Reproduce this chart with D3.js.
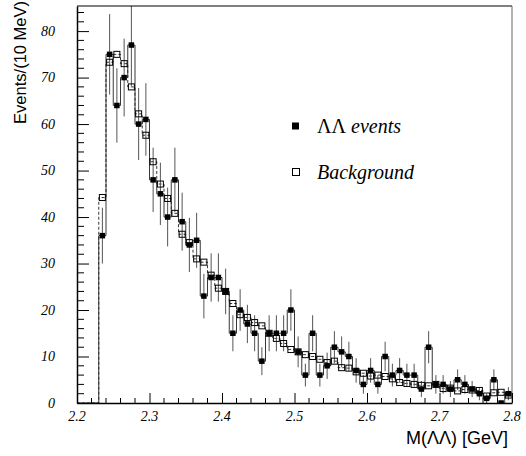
<!DOCTYPE html>
<html>
<head>
<meta charset="utf-8">
<script src="https://cdn.jsdelivr.net/npm/d3@7"></script>
<style>
  html, body { margin: 0; padding: 0; background: #fff; }
  svg { display: block; }
</style>
</head>
<body>
<svg id="chart" width="526" height="456"></svg>
<script>
// ---- data ----
const binLow = [2.23,2.24,2.25,2.26,2.27,2.28,2.29,2.30,2.31,2.32,2.33,2.34,2.35,2.36,2.37,2.38,2.39,
  2.40,2.41,2.42,2.43,2.44,2.45,2.46,2.47,2.48,2.49,2.50,2.51,2.52,2.53,2.54,2.55,2.56,2.57,2.58,2.59,
  2.60,2.61,2.62,2.63,2.64,2.65,2.66,2.67,2.68,2.69,2.70,2.71,2.72,2.73,2.74,2.75,2.76,2.77,2.78,2.79];
const binWidth = 0.01;
const events = [36,75,64,70,77,60,61,48,45,40,48,39,34,35,23,27,27,
  24,15,20,17,15,9,15,15,15,20,11,6,15,6,8,12,11,10,7,4,
  7,4,10,6,7,6,6,3,12,4,4,3,5,4,3,2,1,5,0,2];
const background = [44.2,73.3,75,73,68,62.2,57.6,51.9,47.1,44,40.8,36.3,34.5,31,30.3,27.5,24.7,
  24,21.4,19,18.4,17.3,16.6,15,13.9,12.8,11.5,11,10.4,10,9.4,8.7,9,7.6,7.5,6.7,6.4,
  5.8,6,5.7,5.2,4.4,4.2,4,3.8,3.7,4,3.1,3.2,2.6,2.9,2.8,2.7,1.5,2.2,2.3,1.7];
const xTicks = [2.2, 2.3, 2.4, 2.5, 2.6, 2.7, 2.8];
const yTicks = [0, 10, 20, 30, 40, 50, 60, 70, 80];
const legendLabels = [["ΛΛ", " events"], ["", "Background"]];

// ---- layout ----
const svg = d3.select("#chart");
const L = 77, R = 512, T = 6, B = 403;
const x = d3.scaleLinear().domain([2.2, 2.8]).range([L, R]);
const y = d3.scaleLinear().domain([0, 85.4]).range([B, T]);
const SERIF = "'Liberation Serif', 'DejaVu Serif', serif";

svg.append("defs").append("clipPath").attr("id", "clip")
  .append("rect").attr("x", L).attr("y", T).attr("width", R - L).attr("height", B - T);

const plot = svg.append("g").attr("clip-path", "url(#clip)");

// step histograms
function stepPoints(vals) {
  const pts = [[2.2, 0]];
  vals.forEach((v, i) => pts.push([binLow[i], v]));
  pts.push([binLow[binLow.length - 1] + binWidth, vals[vals.length - 1]]);
  return pts;
}
const line = d3.line().x(d => x(d[0])).y(d => y(d[1])).curve(d3.curveStepAfter);

plot.append("path").attr("d", line(stepPoints(background)))
  .attr("fill", "none").attr("stroke", "#222").attr("stroke-width", 0.9)
  .attr("stroke-dasharray", "3,2");
plot.append("path").attr("d", line(stepPoints(events)))
  .attr("fill", "none").attr("stroke", "#222").attr("stroke-width", 0.9);

const centers = binLow.map(b => b + binWidth / 2);

// error bars (Poisson)
plot.selectAll("line.err").data(events).enter().append("line")
  .attr("class", "err")
  .attr("x1", (d, i) => x(centers[i])).attr("x2", (d, i) => x(centers[i]))
  .attr("y1", d => y(d - Math.sqrt(d))).attr("y2", d => y(d + Math.sqrt(d)))
  .attr("stroke", "#555").attr("stroke-width", 1);

// background markers (open squares)
plot.selectAll("rect.bg").data(background).enter().append("rect")
  .attr("class", "bg")
  .attr("x", (d, i) => x(centers[i]) - 3).attr("y", d => y(d) - 3)
  .attr("width", 6).attr("height", 6)
  .attr("fill", "none").attr("stroke", "#000").attr("stroke-width", 1);

// event markers (filled squares)
plot.selectAll("rect.ev").data(events).enter().append("rect")
  .attr("class", "ev")
  .attr("x", (d, i) => x(centers[i]) - 2.75).attr("y", d => y(d) - 2.75)
  .attr("width", 5.5).attr("height", 5.5)
  .attr("fill", "#000");

// frame
svg.append("line").attr("x1", L).attr("x2", R).attr("y1", T).attr("y2", T)
  .attr("stroke", "#000").attr("stroke-width", 1);
svg.append("line").attr("x1", R).attr("x2", R).attr("y1", T).attr("y2", B)
  .attr("stroke", "#666").attr("stroke-width", 1);

// axes with inward ticks (labels drawn separately)
const xMinor = d3.range(2.2, 2.8001, 0.02).filter(v => Math.abs(v * 10 - Math.round(v * 10)) > 1e-6);
const xAxis = d3.axisBottom(x).tickValues(xTicks).tickSizeInner(-10).tickSizeOuter(0).tickFormat("");
const gx = svg.append("g").attr("transform", `translate(0,${B})`).call(xAxis);
gx.select(".domain").attr("stroke-width", 1.5);
gx.selectAll(".tick line").attr("stroke-width", 1);
gx.selectAll("line.minor").data(xMinor).enter().append("line").attr("class", "minor")
  .attr("x1", d => x(d)).attr("x2", d => x(d)).attr("y1", 0).attr("y2", -5)
  .attr("stroke", "#000");

const yMinor = d3.range(0, 85, 2).filter(v => v % 10 !== 0);
const yAxis = d3.axisLeft(y).tickValues(yTicks).tickSizeInner(-12).tickSizeOuter(0).tickFormat("");
const gy = svg.append("g").attr("transform", `translate(${L},0)`).call(yAxis);
gy.select(".domain").attr("stroke-width", 1.5);
gy.selectAll("line.minor").data(yMinor).enter().append("line").attr("class", "minor")
  .attr("x1", 0).attr("x2", 7).attr("y1", d => y(d)).attr("y2", d => y(d))
  .attr("stroke", "#000");

// tick labels: italic serif
const fmt = d3.format(".1f");
svg.append("g").selectAll("text").data(xTicks).enter().append("text")
  .attr("x", d => x(d)).attr("y", 421).attr("text-anchor", "middle")
  .attr("font-family", SERIF).attr("font-style", "italic").attr("font-size", 14)
  .style("font-style", "italic")
  .text(d => fmt(d));
svg.append("g").selectAll("text").data(yTicks).enter().append("text")
  .attr("x", 55).attr("y", d => y(d)).attr("dy", "0.35em").attr("text-anchor", "end")
  .attr("font-family", SERIF).attr("font-style", "italic").attr("font-size", 14)
  .style("font-style", "italic")
  .text(d => d);

// axis titles
svg.append("text").attr("transform", "translate(20,1) rotate(-90)")
  .attr("text-anchor", "end").attr("dy", "0.35em")
  .attr("font-family", "'Liberation Sans', Arial, sans-serif").attr("font-size", 16.5)
  .text("Events/(10 MeV)");
svg.append("text").attr("x", 508).attr("y", 444).attr("text-anchor", "end")
  .attr("font-family", "'Liberation Sans', Arial, sans-serif").attr("font-size", 18)
  .text("M(ΛΛ) [GeV]");

// legend
const leg = svg.append("g");
const legY = [126, 172];
leg.append("rect").attr("x", 292).attr("y", legY[0] - 3.5).attr("width", 7).attr("height", 7).attr("fill", "#000");
leg.append("rect").attr("x", 292.5).attr("y", legY[1] - 3.5).attr("width", 7).attr("height", 7)
  .attr("fill", "#fff").attr("stroke", "#000").attr("stroke-width", 1);
legendLabels.forEach((lab, i) => {
  const t = leg.append("text").attr("x", 317).attr("y", legY[i] + 6.5)
    .attr("font-family", SERIF).attr("font-size", 20);
  if (lab[0]) t.append("tspan").text(lab[0]);
  t.append("tspan").attr("font-style", "italic").text(lab[1]);
});
</script>
</body>
</html>
